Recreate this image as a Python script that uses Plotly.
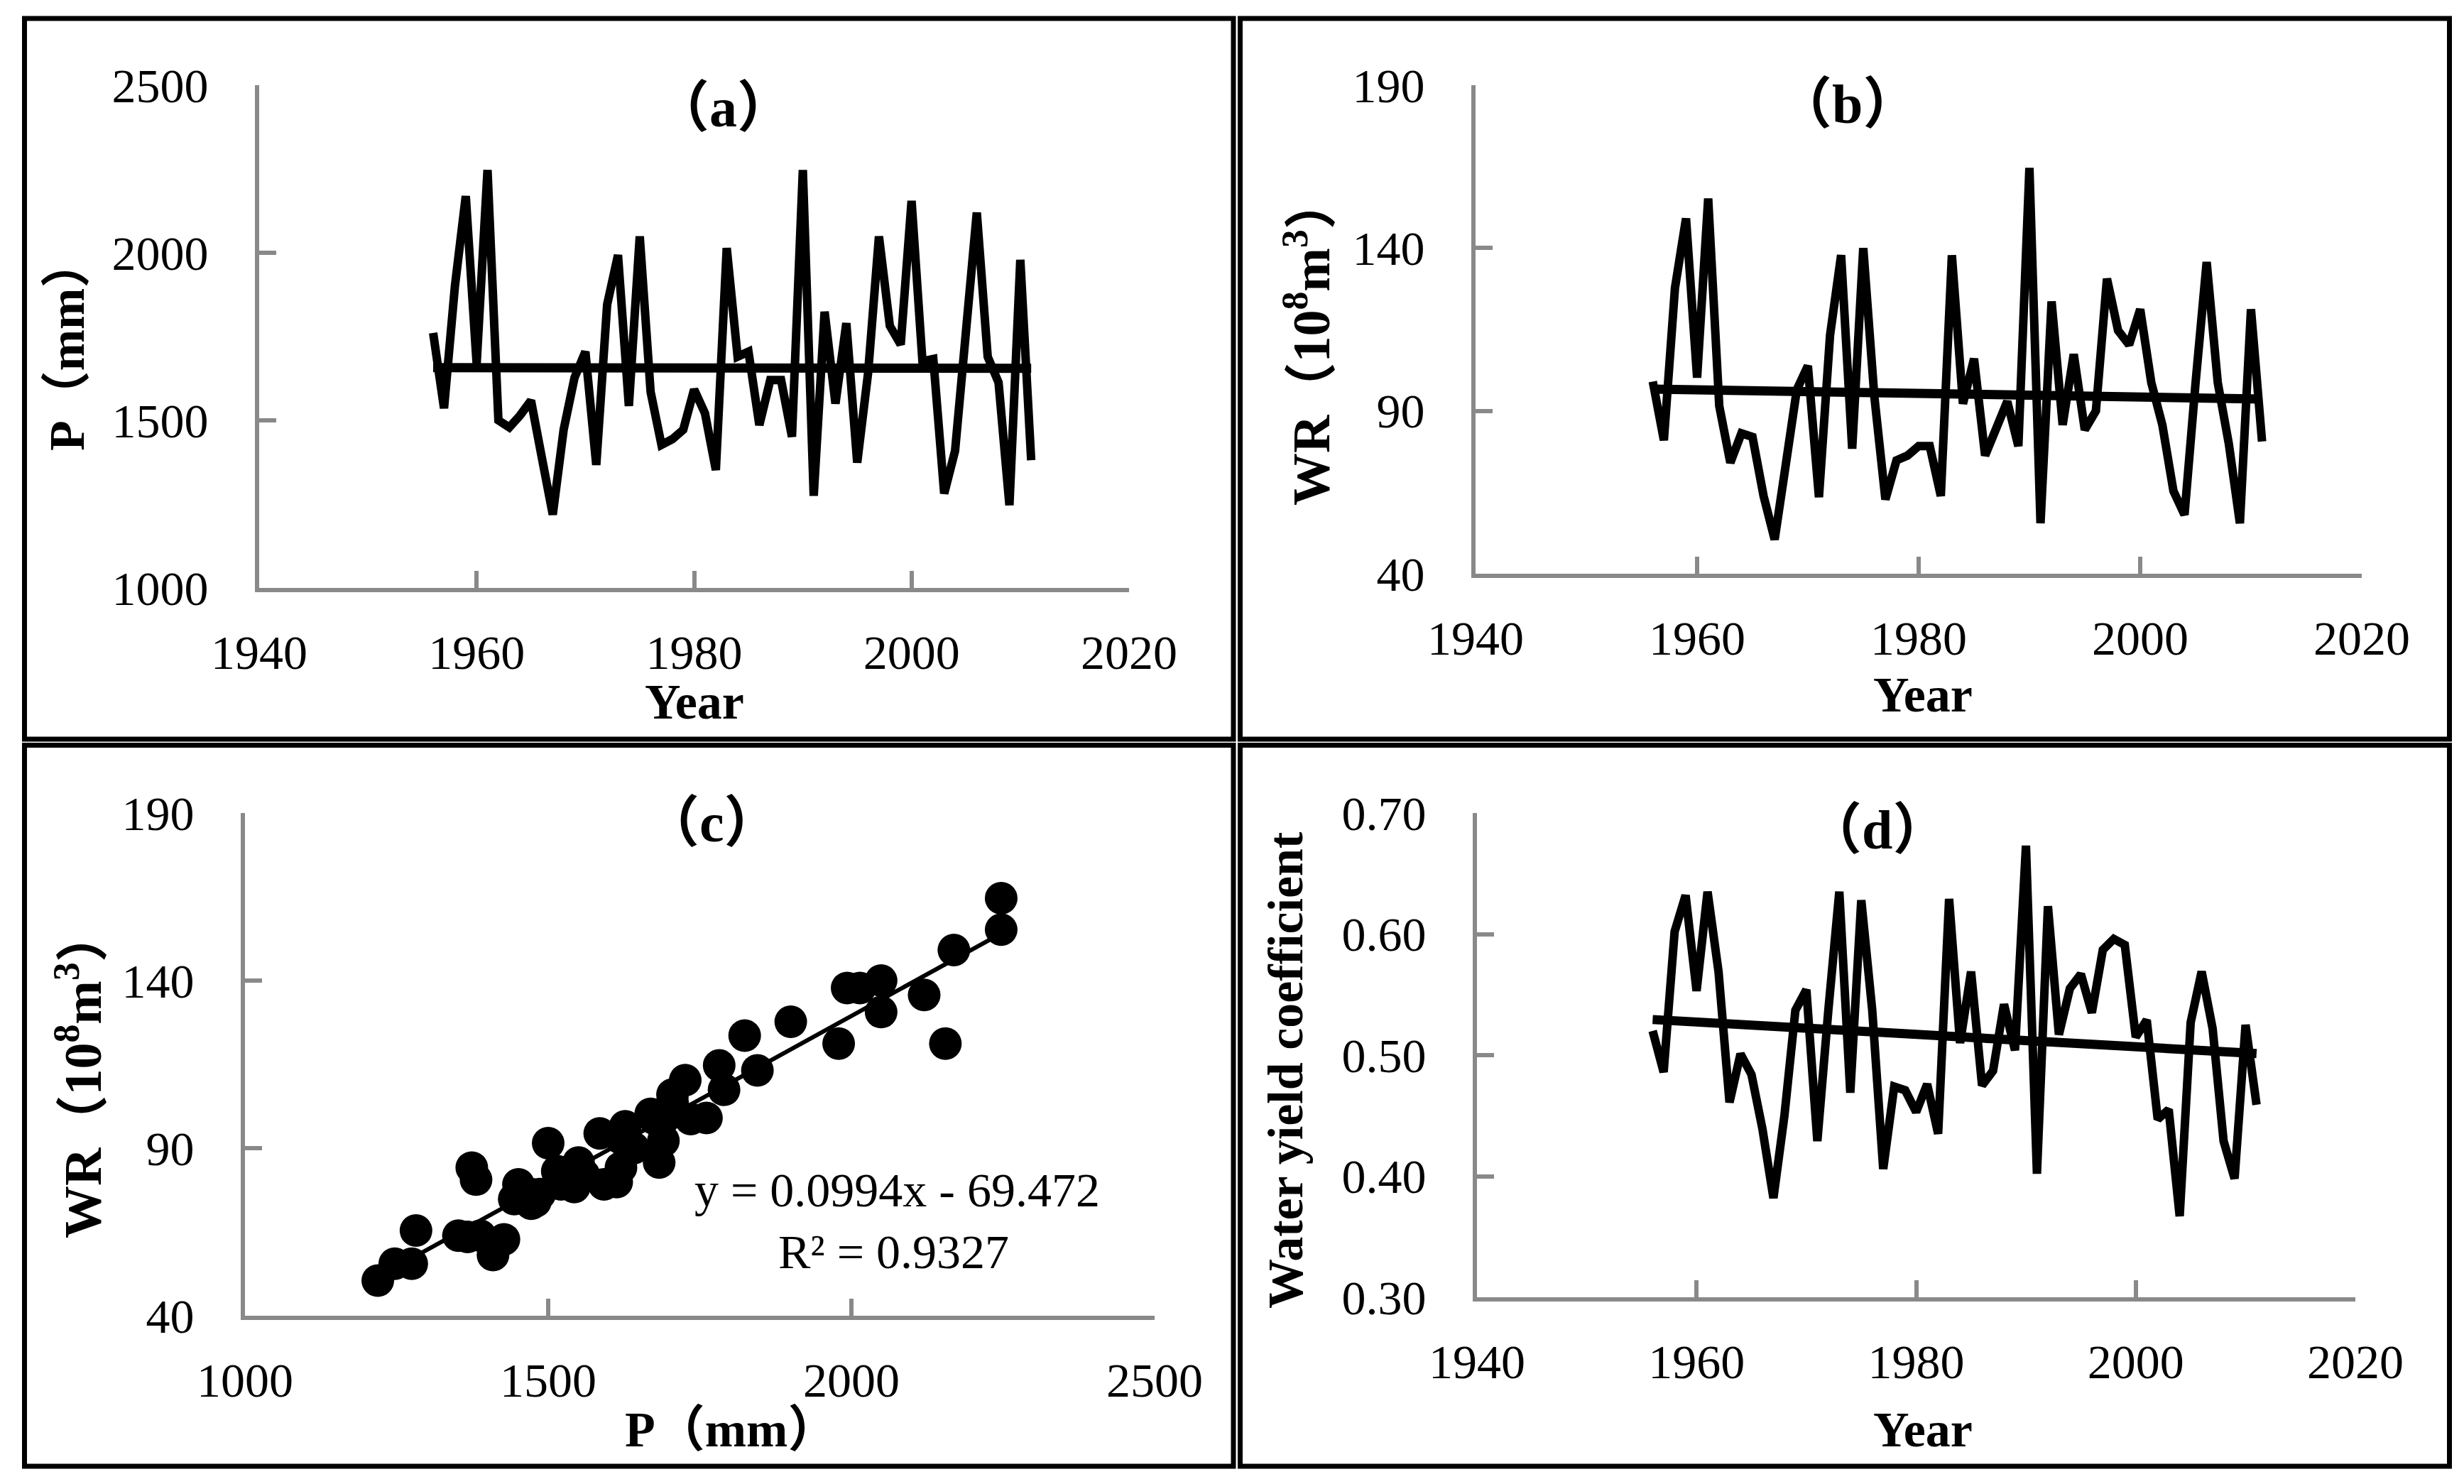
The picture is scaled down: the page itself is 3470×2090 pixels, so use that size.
import numpy as np
import plotly.graph_objects as go

W, H = 3470, 2090

years = list(range(1956, 2012))

# annual precipitation P (mm)
precip = [1761, 1536, 1900, 2169, 1669, 2247, 1500, 1479, 1515, 1559,
          1388, 1219, 1472, 1627, 1705, 1367, 1845, 1993, 1543, 2049,
          1585, 1427, 1444, 1472, 1592, 1521, 1352, 2014, 1690, 1705,
          1486, 1620, 1620, 1451, 2247, 1275, 1824, 1550, 1790, 1374,
          1641, 2049, 1782, 1726, 2155, 1676, 1683, 1282, 1409, 1735,
          2120, 1690, 1613, 1247, 1979, 1381]

# water resources WR (10^8 m^3)
water_res = [99.0, 81.0, 127.7, 149.1, 100.2, 155.2, 91.5, 74.1, 83.1, 82.0,
             63.9, 50.5, 73.4, 96.5, 103.8, 63.5, 113.2, 137.8, 78.4, 140.0,
             94.4, 62.8, 74.8, 76.3, 79.2, 79.2, 63.9, 137.8, 92.2, 106.0,
             76.3, 84.2, 92.9, 79.2, 164.6, 55.5, 123.6, 85.7, 107.4, 84.2,
             90.0, 130.6, 114.7, 110.3, 121.2, 98.7, 85.7, 65.4, 58.1, 98.7,
             135.7, 98.7, 79.9, 55.5, 121.2, 80.6]

# water yield coefficient
yield_coef = [0.520, 0.486, 0.602, 0.632, 0.553, 0.635, 0.569, 0.461, 0.501, 0.484,
              0.439, 0.382, 0.450, 0.537, 0.554, 0.429, 0.537, 0.635, 0.469, 0.628,
              0.537, 0.406, 0.474, 0.471, 0.453, 0.476, 0.435, 0.629, 0.510, 0.569,
              0.475, 0.487, 0.542, 0.504, 0.673, 0.402, 0.623, 0.517, 0.555, 0.567,
              0.535, 0.587, 0.596, 0.591, 0.515, 0.529, 0.447, 0.455, 0.367, 0.527,
              0.569, 0.522, 0.429, 0.398, 0.525, 0.459]

eq_text = "y = 0.0994x - 69.472"
r2_text = "R² = 0.9327"


def fx(p):
    return p / W


def fy(p):
    return 1 - p / H


SERIF = "Liberation Serif, Noto Sans CJK SC"
AXIS_GREY = "#898989"


def trend(x, y):
    k, b = np.polyfit(x, y, 1)
    xs = np.array([min(x), max(x)], dtype=float)
    return xs, k * xs + b


fig = go.Figure()

# (a) precipitation
fig.add_trace(go.Scatter(x=years, y=precip, mode="lines",
                         line=dict(color="black", width=12), xaxis="x", yaxis="y"))
tx, ty = trend(years, precip)
fig.add_trace(go.Scatter(x=tx, y=ty, mode="lines",
                         line=dict(color="black", width=13), xaxis="x", yaxis="y"))

# (b) water resources
fig.add_trace(go.Scatter(x=years, y=water_res, mode="lines",
                         line=dict(color="black", width=12), xaxis="x2", yaxis="y2"))
tx, ty = trend(years, water_res)
fig.add_trace(go.Scatter(x=tx, y=ty, mode="lines",
                         line=dict(color="black", width=13), xaxis="x2", yaxis="y2"))

# (c) P vs WR
fig.add_trace(go.Scatter(x=precip, y=water_res, mode="markers",
                         marker=dict(color="black", size=46), xaxis="x3", yaxis="y3"))
tx, ty = trend(precip, water_res)
fig.add_trace(go.Scatter(x=tx, y=ty, mode="lines",
                         line=dict(color="black", width=6), xaxis="x3", yaxis="y3"))

# (d) water yield coefficient
fig.add_trace(go.Scatter(x=years, y=yield_coef, mode="lines",
                         line=dict(color="black", width=12), xaxis="x4", yaxis="y4"))
tx, ty = trend(years, yield_coef)
fig.add_trace(go.Scatter(x=tx, y=ty, mode="lines",
                         line=dict(color="black", width=13), xaxis="x4", yaxis="y4"))

axis_style = dict(showline=True, linecolor=AXIS_GREY, linewidth=6,
                  ticks="inside", ticklen=24, tickwidth=6, tickcolor=AXIS_GREY,
                  showgrid=False, zeroline=False, automargin=False,
                  tickfont=dict(family=SERIF, size=68, color="black"))

# plot areas in pixels: (left, right, top, bottom)
areas = [(357, 1582, 112, 820), (2070, 3318, 112, 800),
         (337, 1618, 1137, 1845), (2072, 3309, 1137, 1819)]
xranges = [[1940, 2020], [1940, 2020], [1000, 2500], [1940, 2020]]
xdticks = [20, 20, 500, 20]
yranges = [[1000, 2500], [40, 190], [40, 190], [0.30, 0.70]]
ydticks = [500, 50, 50, 0.1]
yformats = ["", "", "", ".2f"]

for i, (l, r, t, b) in enumerate(areas):
    sfx = "" if i == 0 else str(i + 1)
    fig.layout["xaxis" + sfx] = dict(axis_style, domain=[fx(l), fx(r)],
                                     range=xranges[i], dtick=xdticks[i],
                                     tick0=xranges[i][0], anchor="y" + sfx,
                                     ticklabelstandoff=26)
    fig.layout["yaxis" + sfx] = dict(axis_style, domain=[fy(b), fy(t)],
                                     range=yranges[i], dtick=ydticks[i],
                                     tick0=yranges[i][0], anchor="x" + sfx,
                                     tickformat=yformats[i],
                                     ticklabelstandoff=52)

annotations = []


def label(text, x, y, angle=0, bold=True, size=70):
    annotations.append(dict(text=text, x=fx(x), y=fy(y), xref="paper", yref="paper",
                            showarrow=False, textangle=angle,
                            xanchor="center", yanchor="middle",
                            font=dict(family=SERIF, size=size, color="black",
                                      weight="bold" if bold else "normal")))


# panel titles
label("（a）", 1010, 144, size=78)
label("（b）", 2593, 138, size=78)
label("（c）", 995, 1150, size=78)
label("（d）", 2635, 1160, size=78)

# axis titles
label("Year", 970, 980)
label("Year", 2700, 970)
label("P（mm）", 1021, 2005)
label("Year", 2700, 2005)
label("P（mm）", 86, 478, angle=-90)
label("WR（10<sup>8</sup>m<sup>3</sup>）", 1834, 472, angle=-90, size=74)
label("WR（10<sup>8</sup>m<sup>3</sup>）", 103, 1505, angle=-90, size=74)
label("Water yield coefficient", 1802, 1500, angle=-90)

# regression equation
label(eq_text, 1255, 1668, bold=False, size=68)
label(r2_text, 1250, 1755, bold=False, size=68)

# panel frames
frames = [(26.5, 1729, 18, 1033), (1738.5, 3441.5, 18, 1033),
          (26.5, 1729, 1041.5, 2057), (1738.5, 3441.5, 1041.5, 2057)]
shapes = [dict(type="rect", xref="paper", yref="paper",
               x0=fx(x0), x1=fx(x1), y0=fy(y1), y1=fy(y0),
               line=dict(color="black", width=7), fillcolor="rgba(0,0,0,0)")
          for x0, x1, y0, y1 in frames]

fig.update_layout(template="none", width=W, height=H,
                  margin=dict(l=0, r=0, t=0, b=0, pad=0),
                  paper_bgcolor="white", plot_bgcolor="white",
                  showlegend=False, annotations=annotations, shapes=shapes)

fig.write_html("out.html")
